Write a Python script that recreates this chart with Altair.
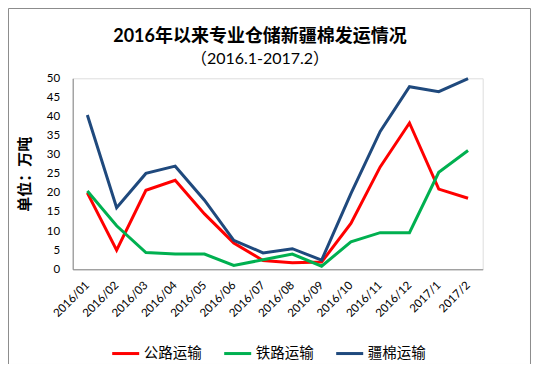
import altair as alt
import pandas as pd

months = ["2016/01", "2016/02", "2016/03", "2016/04", "2016/05", "2016/06", "2016/07",
          "2016/08", "2016/09", "2016/10", "2016/11", "2016/12", "2017/1", "2017/2"]
road = [20.0, 5.0, 20.7, 23.3, 14.5, 6.9, 2.3, 1.7, 1.9, 12.0, 26.8, 38.3, 21.0, 18.6]
rail = [20.5, 11.4, 4.4, 4.0, 4.0, 1.0, 2.5, 4.0, 0.8, 7.2, 9.6, 9.6, 25.4, 31.1]
xj = [40.4, 16.1, 25.1, 27.0, 18.1, 7.6, 4.3, 5.4, 2.4, 19.8, 36.1, 47.8, 46.5, 49.9]
series = ["公路运输", "铁路运输", "疆棉运输"]
colors = ["#FF0000", "#00B050", "#1F497D"]
y_ticks = [0, 5, 10, 15, 20, 25, 30, 35, 40, 45, 50]
title_text = "2016年以来专业仓储新疆棉发运情况"
subtitle_text = "（2016.1-2017.2）"

rows = []
for name, vals in zip(series, [road, rail, xj]):
    for m, v in zip(months, vals):
        rows.append({"month": m, "series": name, "value": v})
df = pd.DataFrame(rows)

FONT = "Lato, 'Noto Sans CJK SC', sans-serif"

lines = alt.Chart(df).mark_line(strokeWidth=3, clip=False).encode(
    x=alt.X("month:N", sort=months, scale=alt.Scale(type="point", padding=0.5),
            axis=alt.Axis(title=None, labelAngle=-45, labelAlign="right", labelBaseline="middle",
                          labelPadding=14, ticks=False, domainColor="#868686", labelFontSize=11.5,
                          labelColor="#000000", labelFont=FONT)),
    y=alt.Y("value:Q", scale=alt.Scale(domain=[0, 50], nice=False),
            axis=alt.Axis(values=y_ticks, title="单位：万吨", titleFontSize=15, titleFontWeight="bold",
                          titleFont=FONT, titleColor="#000000", titlePadding=14,
                          ticks=False, grid=False, domainColor="#868686", labelPadding=13,
                          labelFontSize=11.5, labelColor="#000000", labelFont=FONT)),
    color=alt.Color("series:N", sort=series,
                    scale=alt.Scale(domain=series, range=colors),
                    legend=alt.Legend(title=None, orient="none", direction="horizontal",
                                      legendX=38, legendY=260, symbolType="stroke",
                                      symbolSize=729, symbolStrokeWidth=3, labelFontSize=14.5,
                                      labelFont=FONT, labelColor="#000000", columnPadding=16,
                                      labelOffset=3)),
    detail="series:N",
)

one = pd.DataFrame({"a": [0]})
border = alt.Chart(one).mark_rect(
    fill=None, stroke="#8C8C8C", strokeWidth=1, clip=False
).encode(x=alt.value(-64.2), x2=alt.value(457.8), y=alt.value(-69.8), y2=alt.value(286.2))

title = alt.Chart(one).mark_text(
    text=title_text, fontSize=18, fontWeight="bold", font=FONT, color="#000000",
    align="center", baseline="middle", clip=False
).encode(x=alt.value(187.3), y=alt.value(-41))

subtitle = alt.Chart(one).mark_text(
    text=subtitle_text, fontSize=16, font=FONT, color="#000000",
    align="center", baseline="middle", clip=False
).encode(x=alt.value(187.3), y=alt.value(-19))

chart = alt.layer(border, title, subtitle, lines).properties(
    width=410, height=191,
    autosize=alt.AutoSizeParams(type="none"),
    padding={"left": 64.7, "top": 70.3, "right": 48, "bottom": 95},
).configure_view(stroke=None).configure(background="white")

chart.save("out.html", embed_options={"renderer": "svg", "actions": False})
